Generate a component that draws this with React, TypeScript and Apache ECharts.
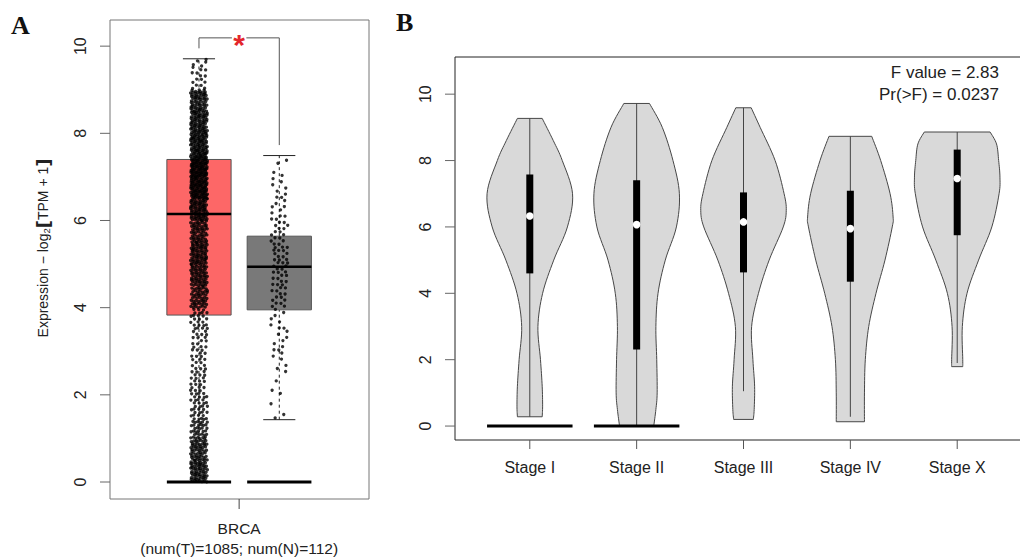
import React, { useEffect, useRef } from "react";
import * as echarts from "echarts";

// ---------- Panel A data ----------
const groupNamesA = ["Tumor", "Normal"];
const groupPosA = [1, 2];
const groupColorsA = ["#fd6767", "#797979"];
const tumorBox = [0, 3.83, 6.15, 7.4, 9.71]; // min, q1, median, q3, max
const normalBox = [1.43, 3.95, 4.94, 5.64, 7.49];
// point counts per expression bin: [lo, hi, count]
const tumorBins = [
  [0, 0.5, 70], [0.5, 1, 60], [1, 1.5, 40], [1.5, 2, 28], [2, 2.5, 22],
  [2.5, 3, 18], [3, 3.5, 18], [3.5, 4, 25], [4, 4.5, 55], [4.5, 5, 65],
  [5, 5.5, 70], [5.5, 6, 60], [6, 6.5, 80], [6.5, 7, 105], [7, 7.5, 110],
  [7.5, 8, 90], [8, 8.5, 80], [8.5, 9, 69], [9, 9.5, 14], [9.5, 9.71, 6],
];
const normalBins = [
  [1.43, 2, 3], [2, 2.5, 3], [2.5, 3, 6], [3, 3.5, 8], [3.5, 4, 8],
  [4, 4.5, 14], [4.5, 5, 16], [5, 5.5, 18], [5.5, 6, 14], [6, 6.5, 10],
  [6.5, 7, 8], [7, 7.49, 4],
];
const yTicksA = [0, 2, 4, 6, 8, 10];
const xTicksA = [1.5];
const cancerName = "BRCA";
const numT = 1085;
const numN = 112;
const sigBracketY = 10.19;
const sigLeftEnd = 9.95;
const sigRightEnd = 7.73;
const sigMark = "*";

// ---------- Panel B data ----------
const stages = ["Stage I", "Stage II", "Stage III", "Stage IV", "Stage X"];
const stagePos = [1, 2, 3, 4, 5];
const stageQ1 = [4.6, 2.31, 4.63, 4.35, 5.75];
const stageMedian = [6.33, 6.07, 6.15, 5.95, 7.46];
const stageQ3 = [7.58, 7.41, 7.04, 7.09, 8.33];
const whiskerLow = [0.28, 0, 1.05, 0.28, 1.9];
const whiskerHigh = [9.27, 9.72, 9.59, 8.73, 8.86];
const zeroCluster = [true, true, false, false, false];
// violin outline: [expression, relative density]
const profileI = [[0.28, 0.29], [0.6, 0.3], [1.2, 0.29], [2, 0.25], [3, 0.19], [4, 0.3], [5, 0.56], [6, 0.88], [7, 1.0], [8, 0.76], [8.6, 0.55], [9.27, 0.29]];
const profileII = [[0, 0.4], [0.5, 0.45], [1, 0.48], [2, 0.47], [3, 0.45], [4, 0.5], [5, 0.67], [6, 0.93], [7, 1.0], [8, 0.85], [9, 0.6], [9.72, 0.3]];
const profileIII = [[0.2, 0.23], [0.5, 0.25], [1.2, 0.26], [2, 0.22], [3, 0.19], [4, 0.35], [5, 0.6], [6, 0.93], [6.5, 1.0], [7, 0.95], [8, 0.74], [9, 0.39], [9.59, 0.18]];
const profileIV = [[0.13, 0.33], [1, 0.33], [2, 0.35], [3, 0.43], [4, 0.6], [5, 0.81], [6, 0.98], [6.3, 1.0], [7, 0.93], [8, 0.71], [8.73, 0.5]];
const profileX = [[1.79, 0.13], [2, 0.13], [3, 0.12], [4, 0.23], [5, 0.5], [6, 0.81], [7, 0.98], [7.5, 1.0], [8, 0.97], [8.5, 0.92], [8.86, 0.77]];
const violinProfiles = [profileI, profileII, profileIII, profileIV, profileX];
const yTicksB = [0, 2, 4, 6, 8, 10];
const fValue = "2.83";
const pValue = "0.0237";

const FONT = "'Liberation Sans', Arial, Helvetica, sans-serif";

// spreads each bin's count over its range with a low-discrepancy (R2) layout
function binPoints(bins: number[][], pos: number, spread: number) {
  const pts: number[][] = [];
  bins.forEach(([lo, hi, n], b) => {
    for (let k = 0; k < n; k++) {
      const u = (0.5 + (k + 1) * 0.7548776662 + b * 0.31) % 1;
      const v = (0.5 + (k + 1) * 0.569840291) % 1;
      pts.push([pos + (u * 2 - 1) * spread, lo + v * (hi - lo)]);
    }
  });
  return pts;
}

function spline(pts: number[][], steps = 8) {
  const out: number[][] = [];
  const n = pts.length;
  for (let i = 0; i < n - 1; i++) {
    const p0 = pts[Math.max(i - 1, 0)];
    const p1 = pts[i];
    const p2 = pts[i + 1];
    const p3 = pts[Math.min(i + 2, n - 1)];
    for (let s = 0; s < steps; s++) {
      const t = s / steps;
      const t2 = t * t;
      const t3 = t2 * t;
      const f = (a: number, b: number, c: number, d: number) =>
        0.5 * (2 * b + (-a + c) * t + (2 * a - 5 * b + 4 * c - d) * t2 + (-a + 3 * b - 3 * c + d) * t3);
      out.push([f(p0[0], p1[0], p2[0], p3[0]), f(p0[1], p1[1], p2[1], p3[1])]);
    }
  }
  out.push(pts[n - 1]);
  return out;
}

// axis ticks drawn outside the frame, R style
function yTickSeries(axisIdx: number, ticks: number[], len: number, color: string) {
  return {
    type: "custom", xAxisIndex: axisIdx, yAxisIndex: axisIdx, clip: false, z: 6, silent: true,
    encode: { x: -1, y: 1 },
    data: ticks.map((v) => [0, v]),
    renderItem: (params: any, api: any) => {
      const cs = params.coordSys;
      const p = api.coord([0, api.value(1)]);
      return { type: "line", shape: { x1: cs.x - len, y1: p[1], x2: cs.x, y2: p[1] }, style: { stroke: color, lineWidth: 1 } };
    },
  };
}
function xTickSeries(axisIdx: number, ticks: number[], len: number, color: string) {
  return {
    type: "custom", xAxisIndex: axisIdx, yAxisIndex: axisIdx, clip: false, z: 6, silent: true,
    encode: { x: 0, y: -1 },
    data: ticks.map((v) => [v, 0]),
    renderItem: (params: any, api: any) => {
      const cs = params.coordSys;
      const p = api.coord([api.value(0), 0]);
      const yb = cs.y + cs.height;
      return { type: "line", shape: { x1: p[0], y1: yb, x2: p[0], y2: yb + len }, style: { stroke: color, lineWidth: 1 } };
    },
  };
}

export default function App() {
  const ref = useRef<HTMLDivElement>(null);
  useEffect(() => {
    if (!ref.current) return;
    const chart = echarts.init(ref.current, null, { renderer: "svg" });
    const boxStats = [tumorBox, normalBox];
    const BOX_HW = 0.4;
    const CAP_HW = 0.2;
    const VIOLIN_HW = 0.4;
    const tickLabel = { color: "#222", fontFamily: FONT, fontSize: 16 };
    const noLine = { show: false, onZero: false };
    const noTick = { show: false };

    const option: any = {
      animation: false,
      grid: [
        { left: 110, top: 20, width: 259, height: 479, show: true, borderColor: "#777", borderWidth: 1, containLabel: false, outerBoundsMode: "none" },
        { left: 455, top: 57, width: 577, height: 383, show: true, borderColor: "#222", borderWidth: 1, containLabel: false, outerBoundsMode: "none" },
      ],
      xAxis: [
        {
          type: "value", gridIndex: 0, min: -0.108, max: 3.117, position: "bottom",
          axisLine: noLine, splitLine: { show: false }, axisTick: noTick,
          axisLabel: {
            show: true, customValues: xTicksA, margin: 19, color: "#222", fontFamily: FONT, fontSize: 15.5, lineHeight: 20,
            formatter: () => `${cancerName}\n(num(T)=${numT}; num(N)=${numN})`,
          },
        },
        {
          type: "value", gridIndex: 1, min: 0.3, max: 5.7, position: "bottom",
          axisLine: noLine, splitLine: { show: false }, axisTick: noTick,
          axisLabel: {
            show: true, customValues: stagePos, margin: 19, color: "#222", fontFamily: FONT, fontSize: 16,
            formatter: (v: number) => stages[stagePos.indexOf(Math.round(v))],
          },
        },
      ],
      yAxis: [
        {
          type: "value", gridIndex: 0, min: -0.39, max: 10.6, position: "left",
          axisLine: noLine, splitLine: { show: false }, axisTick: noTick,
          axisLabel: { show: true, customValues: yTicksA, rotate: 90, margin: 22, ...tickLabel },
        },
        {
          type: "value", gridIndex: 1, min: -0.42, max: 11.12, position: "left",
          axisLine: noLine, splitLine: { show: false }, axisTick: noTick,
          axisLabel: { show: true, customValues: yTicksB, rotate: 90, margin: 22, ...tickLabel },
        },
      ],
      series: [
        yTickSeries(0, yTicksA, 10, "#666"),
        xTickSeries(0, xTicksA, 10, "#444"),
        yTickSeries(1, yTicksB, 10, "#666"),
        xTickSeries(1, stagePos, 9, "#555"),
        {
          type: "custom", xAxisIndex: 0, yAxisIndex: 0, clip: false, z: 2,
          data: groupNamesA.map((n, i) => [groupPosA[i], i]),
          renderItem: (params: any, api: any) => {
            const i = params.dataIndex;
            const pos = api.value(0);
            const [mn, q1, md, q3, mx] = boxStats[i];
            const c = (x: number, y: number) => api.coord([x, y]);
            const tl = c(pos - BOX_HW, q3);
            const br = c(pos + BOX_HW, q1);
            const line = (a: number[], b: number[], style: any) => ({
              type: "line", shape: { x1: a[0], y1: a[1], x2: b[0], y2: b[1] }, style,
            });
            const dash = { stroke: "#222", lineWidth: 1, lineDash: [3, 3] };
            const solid = { stroke: "#222", lineWidth: 1 };
            return {
              type: "group",
              children: [
                line(c(pos, q3), c(pos, mx), dash),
                line(c(pos, mn), c(pos, q1), dash),
                line(c(pos - CAP_HW, mx), c(pos + CAP_HW, mx), solid),
                line(c(pos - CAP_HW, mn), c(pos + CAP_HW, mn), solid),
                { type: "rect", shape: { x: tl[0], y: tl[1], width: br[0] - tl[0], height: br[1] - tl[1] }, style: { fill: groupColorsA[i], stroke: "#555", lineWidth: 1 } },
                line(c(pos - BOX_HW, md), c(pos + BOX_HW, md), { stroke: "#000", lineWidth: 2.5 }),
              ],
            };
          },
        },
        {
          type: "scatter", xAxisIndex: 0, yAxisIndex: 0, z: 3, symbolSize: 3.3,
          itemStyle: { color: "#000" }, silent: true,
          data: binPoints(tumorBins, groupPosA[0], 0.105).concat(binPoints(normalBins, groupPosA[1], 0.105)),
        },
        {
          type: "custom", xAxisIndex: 0, yAxisIndex: 0, clip: false, z: 4,
          data: groupNamesA.map((n, i) => [groupPosA[i], 0]),
          renderItem: (params: any, api: any) => {
            const pos = api.value(0);
            const a = api.coord([pos - BOX_HW, 0]);
            const b = api.coord([pos + BOX_HW, 0]);
            return { type: "line", shape: { x1: a[0], y1: a[1], x2: b[0], y2: b[1] }, style: { stroke: "#000", lineWidth: 3 } };
          },
        },
        {
          type: "custom", xAxisIndex: 0, yAxisIndex: 0, clip: false, z: 5,
          data: [[1.5, sigBracketY]],
          renderItem: (params: any, api: any) => {
            const x1 = groupPosA[0];
            const x2 = groupPosA[1];
            const mid = (x1 + x2) / 2;
            const p = (x: number, y: number) => api.coord([x, y]);
            const st = { stroke: "#555", lineWidth: 1, fill: null };
            const m = p(mid, sigBracketY);
            return {
              type: "group",
              children: [
                { type: "polyline", shape: { points: [p(x1, sigLeftEnd), p(x1, sigBracketY), p(mid - 0.09, sigBracketY)] }, style: st },
                { type: "polyline", shape: { points: [p(mid + 0.09, sigBracketY), p(x2, sigBracketY), p(x2, sigRightEnd)] }, style: st },
                { type: "text", x: m[0], y: m[1] - 8, style: { text: sigMark, fill: "#e3262b", font: `bold 30px ${FONT}`, textAlign: "center", textVerticalAlign: "top" } },
              ],
            };
          },
        },
        {
          type: "custom", xAxisIndex: 1, yAxisIndex: 1, clip: false, z: 2,
          data: stages.map((s, i) => [stagePos[i], i]),
          renderItem: (params: any, api: any) => {
            const i = params.dataIndex;
            const pos = api.value(0);
            const prof = violinProfiles[i];
            const left = prof.map(([y, r]) => api.coord([pos - r * VIOLIN_HW, y]));
            const right = prof.map(([y, r]) => api.coord([pos + r * VIOLIN_HW, y]));
            const poly = spline(left).concat(spline(right).reverse());
            const wl = api.coord([pos, whiskerLow[i]]);
            const wh = api.coord([pos, whiskerHigh[i]]);
            const a = api.coord([pos, stageQ3[i]]);
            const b = api.coord([pos, stageQ1[i]]);
            const m = api.coord([pos, stageMedian[i]]);
            const children: any[] = [
              { type: "polygon", shape: { points: poly }, style: { fill: "#d9d9d9", stroke: "#474747", lineWidth: 1 } },
              { type: "line", shape: { x1: wl[0], y1: wl[1], x2: wh[0], y2: wh[1] }, style: { stroke: "#444", lineWidth: 1 } },
              { type: "rect", shape: { x: a[0] - 3.5, y: a[1], width: 7, height: b[1] - a[1] }, style: { fill: "#000" } },
              { type: "circle", shape: { cx: m[0], cy: m[1], r: 3.8 }, style: { fill: "#fff" } },
            ];
            if (zeroCluster[i]) {
              const z1 = api.coord([pos - VIOLIN_HW, 0]);
              const z2 = api.coord([pos + VIOLIN_HW, 0]);
              children.push({ type: "line", shape: { x1: z1[0], y1: z1[1], x2: z2[0], y2: z2[1] }, style: { stroke: "#000", lineWidth: 3 } });
            }
            return { type: "group", children };
          },
        },
      ],
      graphic: [
        { type: "text", x: 11, y: 12, style: { text: "A", font: "bold 26px 'Liberation Serif', 'DejaVu Serif', serif", fill: "#111", textVerticalAlign: "top" } },
        { type: "text", x: 396, y: 9, style: { text: "B", font: "bold 26px 'Liberation Serif', 'DejaVu Serif', serif", fill: "#111", textVerticalAlign: "top" } },
        {
          type: "text", x: 43, y: 248, rotation: Math.PI / 2,
          style: {
            text: "Expression − log{s|2}{b|[}TPM + 1{b|]}",
            font: `14px ${FONT}`, fill: "#222", textAlign: "center", textVerticalAlign: "middle",
            rich: {
              s: { fontSize: 9.5, fontFamily: FONT, fill: "#222", padding: [7, 0, 0, 0] },
              b: { fontSize: 18, fontWeight: "bold", fontFamily: "'DejaVu Sans', sans-serif", fill: "#222" },
            },
          },
        },
        { type: "text", x: 999, y: 64, style: { text: `F value = ${fValue}`, font: `17px ${FONT}`, fill: "#222", textAlign: "right", textVerticalAlign: "top" } },
        { type: "text", x: 999, y: 86, style: { text: `Pr(>F) = ${pValue}`, font: `17px ${FONT}`, fill: "#222", textAlign: "right", textVerticalAlign: "top" } },
      ],
    };
    chart.setOption(option);
    return () => chart.dispose();
  }, []);
  return (
    <div
      ref={ref}
      style={{ position: "fixed", left: 0, top: 0, width: 1020, height: 558, background: "#fff" }}
    />
  );
}
